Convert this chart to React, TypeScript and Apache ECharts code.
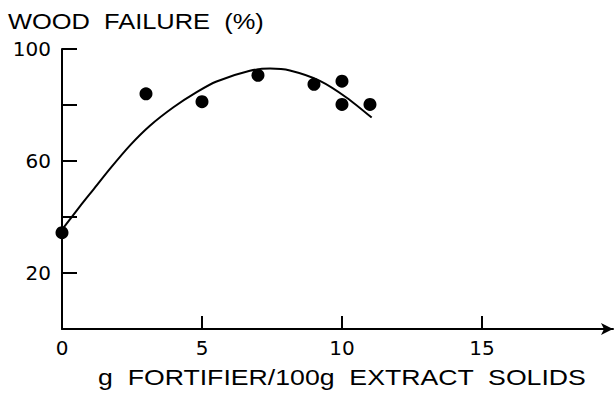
import React, { useEffect, useRef } from 'react';
import * as echarts from 'echarts';

const titleText = 'WOOD  FAILURE  (%)';
const xAxisTitle = 'g  FORTIFIER/100g  EXTRACT  SOLIDS';
const xTickValues = [5, 10, 15];
const xLabelValues = [0, 5, 10, 15];
const yTickValues = [20, 40, 60, 80, 100];
const yLabelValues = [20, 60, 100];
const pointX = [0, 3, 5, 7, 9, 10, 10, 11];
const pointY = [34.4, 84, 81.2, 90.6, 87.4, 88.5, 80.2, 80.2];
const curveX = [0, 0.64, 1.12, 1.71, 2.43, 3.14, 3.98, 4.81, 5.52, 6.71, 7.43, 8.14, 9.21, 10.17, 11.06];
const curveY = [35.5, 43.8, 49.8, 57.2, 65.6, 72.6, 79.2, 84.6, 88.4, 92.2, 93.0, 92.3, 88.6, 82.6, 75.5];

const FONT = '"Liberation Sans", Arial, Helvetica, sans-serif';
const TICK_FONT = '"DejaVu Sans", "Liberation Sans", sans-serif';

export default function App() {
  const ref = useRef<HTMLDivElement>(null);
  useEffect(() => {
    if (!ref.current) return;
    const chart = echarts.init(ref.current, null, { renderer: 'svg' });
    chart.setOption({
      animation: false,
      backgroundColor: '#fff',
      grid: { left: 62, top: 49, bottom: 65, right: 3, containLabel: false },
      xAxis: {
        type: 'value',
        min: 0,
        max: 19.68,
        interval: 5,
        axisLine: { show: true, symbol: ['none', 'arrow'], symbolSize: [9, 12], lineStyle: { color: '#000', width: 2 } },
        axisTick: { show: true, inside: true, length: 13, customValues: xTickValues, lineStyle: { color: '#000', width: 2 } },
        axisLabel: { customValues: xLabelValues, color: '#000', fontSize: 20, fontFamily: TICK_FONT, margin: 9 },
        splitLine: { show: false },
      },
      yAxis: {
        type: 'value',
        min: 0,
        max: 100,
        interval: 20,
        axisLine: { show: true, lineStyle: { color: '#000', width: 2 } },
        axisTick: { show: true, inside: true, length: 15, customValues: yTickValues, lineStyle: { color: '#000', width: 2 } },
        axisLabel: { customValues: yLabelValues, color: '#000', fontSize: 20, fontFamily: TICK_FONT, margin: 11 },
        splitLine: { show: false },
      },
      series: [
        {
          type: 'line',
          data: curveX.map((x, i) => [x, curveY[i]]),
          smooth: 0.25,
          showSymbol: false,
          symbol: 'none',
          lineStyle: { color: '#000', width: 2 },
          z: 2,
        },
        {
          type: 'scatter',
          data: pointX.map((x, i) => [x, pointY[i]]),
          symbol: 'circle',
          symbolSize: 13,
          itemStyle: { color: '#000', opacity: 1 },
          z: 3,
        },
      ],
      graphic: [
        {
          type: 'text',
          x: 8,
          y: 21,
          scaleX: 1.157,
          style: { text: titleText, font: `22px ${FONT}`, fill: '#000', textAlign: 'left', textVerticalAlign: 'middle' },
        },
        {
          type: 'text',
          x: 98,
          y: 377,
          scaleX: 1.212,
          style: { text: xAxisTitle, font: `22px ${FONT}`, fill: '#000', textAlign: 'left', textVerticalAlign: 'middle' },
        },
      ],
    });
    return () => chart.dispose();
  }, []);
  return <div ref={ref} style={{ position: 'fixed', left: 0, top: 0, width: 616, height: 394 }} />;
}
